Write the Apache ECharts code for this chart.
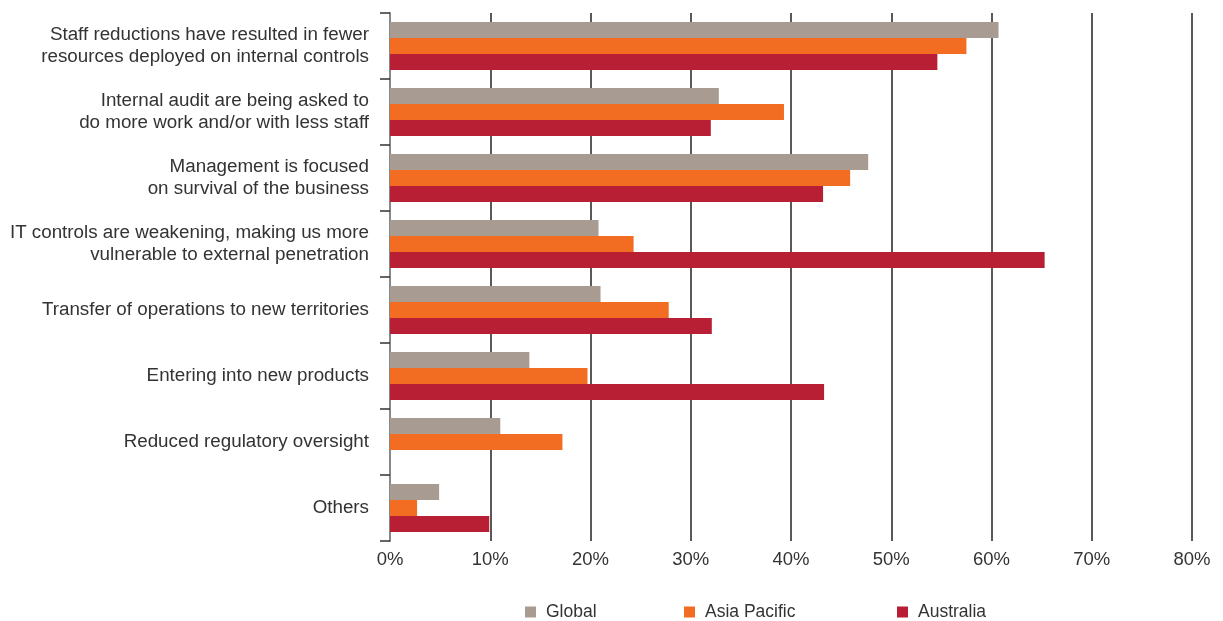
<!DOCTYPE html>
<html><head><meta charset="utf-8">
<script src="https://cdn.jsdelivr.net/npm/echarts@6/dist/echarts.min.js"></script>
<style>html,body{margin:0;padding:0;background:#fff}#c{width:1223px;height:621px}</style>
</head><body><div id="c"></div>
<script>
const categories = [
  "Staff reductions have resulted in fewer\nresources deployed on internal controls",
  "Internal audit are being asked to\ndo more work and/or with less staff",
  "Management is focused\non survival of the business",
  "IT controls are weakening, making us more\nvulnerable to external penetration",
  "Transfer of operations to new territories",
  "Entering into new products",
  "Reduced regulatory oversight",
  "Others"
];
const globalVals = [60.7, 32.8, 47.7, 20.8, 21.0, 13.9, 11.0, 4.9];
const asiaPacificVals = [57.5, 39.3, 45.9, 24.3, 27.8, 19.7, 17.2, 2.7];
const australiaVals = [54.6, 32.0, 43.2, 65.3, 32.1, 43.3, 0, 9.9];
const seriesNames = ["Global", "Asia Pacific", "Australia"];

const font = "'Liberation Sans', Arial, Helvetica, sans-serif";
const chart = echarts.init(document.getElementById('c'));
const mk = (name, data, color) => ({
  name, type: 'bar', data, barWidth: 16, barGap: '0%',
  itemStyle: { color }, animation: false
});
const legendAt = (name, left) => ({
  top: 603, left, itemWidth: 11, itemHeight: 11, padding: 0, icon: 'rect',
  selectedMode: false,
  textStyle: { fontSize: 17.5, color: '#333', fontFamily: font, padding: [0, 0, 0, 5] },
  data: [name]
});
chart.setOption({
  animation: false,
  textStyle: { fontFamily: font },
  grid: { left: 390, right: 31, top: 13, bottom: 80, containLabel: false },
  legend: [
    legendAt(seriesNames[0], 525),
    legendAt(seriesNames[1], 684),
    legendAt(seriesNames[2], 897)
  ],
  xAxis: {
    type: 'value', min: 0, max: 80, interval: 10,
    axisLabel: { formatter: '{value}%', fontSize: 18.5, color: '#333', margin: 9, fontFamily: font },
    axisLine: { show: false }, axisTick: { show: false },
    splitLine: { show: true, lineStyle: { color: '#222', width: 1.5 } }
  },
  yAxis: {
    type: 'category', data: categories, inverse: true,
    axisLine: { show: true, lineStyle: { color: '#888', width: 2 } },
    axisTick: { show: true, length: 10, lineStyle: { color: '#333', width: 1.5 } },
    axisLabel: { fontSize: 18.8, color: '#333', lineHeight: 22, margin: 21, fontFamily: font, align: 'right', padding: [4, 0, 0, 0] }
  },
  series: [
    mk(seriesNames[0], globalVals, '#a89b91'),
    mk(seriesNames[1], asiaPacificVals, '#f26d22'),
    mk(seriesNames[2], australiaVals, '#b81f34')
  ]
});
</script></body></html>
